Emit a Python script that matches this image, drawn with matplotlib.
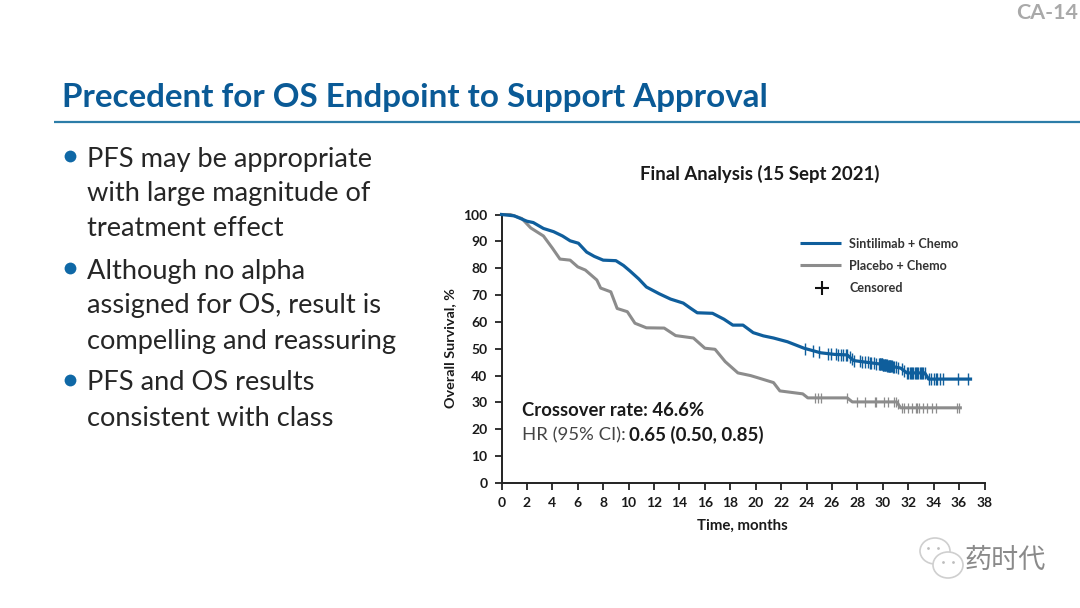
import matplotlib
matplotlib.use("Agg")
import matplotlib.pyplot as plt
from matplotlib.patches import Ellipse
import numpy as np

W, H = 1080, 608
plt.rcParams['font.family'] = ['Lato', 'Noto Sans CJK SC', 'DejaVu Sans']

TITLE = "Precedent for OS Endpoint to Support Approval"
PAGE = "CA-14"
BULLETS = [
    ["PFS may be appropriate", "with large magnitude of", "treatment effect"],
    ["Although no alpha", "assigned for OS, result is", "compelling and reassuring"],
    ["PFS and OS results", "consistent with class"],
]
CHART_TITLE = "Final Analysis (15 Sept 2021)"
XLABEL = "Time, months"
YLABEL = "Overall Survival, %"
XTICKS = list(range(0, 39, 2))
YTICKS = list(range(0, 101, 10))
SERIES_A = "Sintilimab + Chemo"
SERIES_B = "Placebo + Chemo"
CENSORED = "Censored"

blue_t = [0, 1, 1.5, 2, 2.5, 3.3, 4.1, 4.8, 5.4, 6.05, 6.7, 7.3, 8, 9, 9.6, 10.1, 10.8, 11.4, 12.4, 13.3, 14.3,
          14.9, 15.4, 16.6, 17.5, 18.2, 19, 19.8, 20.6, 21.4, 22.5, 23.8, 25.1, 26.2, 27.2, 27.7, 29.8,
          30.6, 31.4, 31.9, 33.3, 33.6, 36.9]
blue_s = [100, 99.5, 98.5, 97.5, 97, 94.8, 93.6, 92, 90.2, 89.3, 86, 84.4, 83, 82.8, 81, 79, 76, 73, 70.5, 68.5, 67,
          65, 63.4, 63.2, 61, 58.8, 58.8, 56, 54.8, 54, 52.6, 50.2, 48.5, 47.9, 47.7, 45.6, 44.3,
          43.5, 42.8, 41, 41, 38.7, 38.7]
grey_t = [0, 0.7, 1.6, 2.3, 3.3, 4, 4.6, 5.4, 6, 6.6, 7.5, 7.8, 8.6, 9.1, 9.9, 10.5, 11.4, 12.8, 13.7, 15.1, 16,
          16.8, 17.6, 18.6, 19.6, 20.3, 21.4, 21.9, 23.7, 24.1, 27.2, 27.6, 31.1, 31.4, 36.1]
grey_s = [100, 100, 98.5, 95, 92, 87.5, 83.4, 83, 80.5, 79.3, 75.6, 72.6, 71.2, 65, 63.8, 59.5, 57.8, 57.7, 54.9, 54, 50.2,
          49.8, 45.2, 41, 40, 39, 37.4, 34.3, 33.2, 31.7, 31.7, 30.2, 30.2, 28, 28]

blue_cens = [23.9, 24.5, 25.0, 25.7, 25.9, 26.3, 26.5, 26.7, 26.9, 27.1, 27.2, 27.4, 27.6, 27.7, 28.2, 28.4, 28.6,
             28.8, 29.0, 29.1, 29.3, 29.5, 29.7, 29.75, 29.8, 29.85, 29.9, 29.95, 30.0, 30.05, 30.1, 30.15, 30.2,
             30.25, 30.3, 30.35, 30.4, 30.45, 30.5, 30.55, 30.6, 30.65, 30.7, 30.8, 30.9, 31.0, 31.2, 31.5, 31.7,
             31.9, 32.0, 32.1, 32.2, 32.3, 32.4, 32.5, 32.6, 32.7, 32.8, 32.9,
             33.0, 33.1, 33.2, 33.3, 33.6, 33.8, 34.0, 34.2, 34.3, 34.5, 34.7, 35.9, 36.7]
grey_cens = [24.7, 24.9, 25.1, 27.2, 28.0, 28.6, 29.4, 29.5, 30.1, 30.4, 30.9, 31.0, 31.2, 31.5, 31.7, 32.0, 32.3,
             32.6, 32.7, 32.85, 33.2, 33.5, 33.9, 34.2, 35.8, 36.0]
CROSSOVER_LABEL = "Crossover rate: 46.6%"
HR_PREFIX = "HR (95% CI):"
HR_VALUE = "0.65 (0.50, 0.85)"
WATERMARK = "药时代"

BLUE = "#0F5E9C"
GREY = "#8C8C8C"
TITLE_C = "#0A5A96"
TEXT = "#262626"
DARK = "#1A1A1A"

fig = plt.figure(figsize=(W / 100, H / 100), dpi=100, facecolor="white")
bg = fig.add_axes([0, 0, 1, 1])
bg.set_xlim(0, W)
bg.set_ylim(H, 0)
bg.axis("off")

bg.text(1078, 13, PAGE, ha="right", va="center", fontsize=15.4, fontweight="bold", color="#A9A9A9")
bg.text(62, 97, TITLE, ha="left", va="center", fontsize=23.9, fontweight="bold", color=TITLE_C)
bg.plot([54, 1080], [122, 122], color="#2C7DA8", lw=1.6, solid_capstyle="butt")

line_y = [159, 194, 229, 271, 306, 341, 383, 418]
idx = 0
for para in BULLETS:
    bg.plot([70], [line_y[idx] - 3], "o", ms=8.5, color="#0F68A6", mew=0)
    for ln in para:
        bg.text(87, line_y[idx], ln, ha="left", va="center", fontsize=19.6, color=TEXT)
        idx += 1

bg.text(760, 174, CHART_TITLE, ha="center", va="center", fontsize=13.4, fontweight="bold", color=DARK)

x0, x1 = 501.5, 984.5
y0, y1 = 483, 214.5
ax = fig.add_axes([x0 / W, 1 - y0 / H, (x1 - x0) / W, (y0 - y1) / H])
ax.patch.set_alpha(0)
ax.set_xlim(0, 38)
ax.set_ylim(0, 100)
ax.set_xticks(XTICKS)
ax.set_yticks(YTICKS)
ax.tick_params(length=5, width=1.3, color="#222222", labelsize=10, labelcolor=DARK, pad=5)
for lab in ax.get_xticklabels() + ax.get_yticklabels():
    lab.set_fontweight("bold")
for s in ("top", "right"):
    ax.spines[s].set_visible(False)
for s in ("left", "bottom"):
    ax.spines[s].set_linewidth(1.4)
    ax.spines[s].set_color("#222222")

ax.plot(grey_t, grey_s, color=GREY, lw=2.2, clip_on=False, zorder=3)
ax.plot(blue_t, blue_s, color=BLUE, lw=2.3, clip_on=False, zorder=4)

ax.plot(grey_cens, np.interp(grey_cens, grey_t, grey_s), "|", color=GREY, ms=7.5, mew=0.9, zorder=3)
ax.plot(blue_cens, np.interp(blue_cens, blue_t, blue_s), "|", color=BLUE, ms=8.5, mew=1.0, zorder=4)

bg.text(742.5, 526, XLABEL, ha="center", va="center", fontsize=10.8, fontweight="bold", color=DARK)
bg.text(450, 348, YLABEL, ha="center", va="center", rotation=90, fontsize=10.4, fontweight="bold", color=DARK)

# legend
bg.plot([800, 841], [243, 243], color=BLUE, lw=2.2, solid_capstyle="butt")
bg.plot([800, 841], [265, 265], color=GREY, lw=2.2, solid_capstyle="butt")
bg.plot([822], [288], "+", color="#111111", ms=10, mew=1.5)
for y, t in zip([244, 266, 288], [SERIES_A, SERIES_B, CENSORED]):
    bg.text(849, y, t, ha="left", va="center", fontsize=9.1, fontweight="bold", color="#333333")

bg.text(522, 410, CROSSOVER_LABEL, ha="left", va="center", fontsize=13.3, fontweight="bold", color=DARK)
bg.text(522, 435, HR_PREFIX, ha="left", va="center", fontsize=13.3, color="#444444")
bg.text(629, 435, HR_VALUE, ha="left", va="center", fontsize=13.5, fontweight="bold", color=DARK)

# watermark
for cx, cy, w, h in [(935, 551, 30, 26), (948, 565, 30, 26)]:
    bg.add_patch(Ellipse((cx, cy), w, h, fill=True, fc="white", ec="#CFCFCF", lw=1.2, zorder=5))
bg.plot([928, 938, 943, 953], [548, 548, 562, 562], "o", ms=2, color="#BDBDBD", mew=0, zorder=6)
bg.text(1005, 560, WATERMARK, ha="center", va="center", fontsize=19.5, color="#8A8A8A", zorder=6)

fig.savefig("out.png", dpi=100, facecolor="white")
